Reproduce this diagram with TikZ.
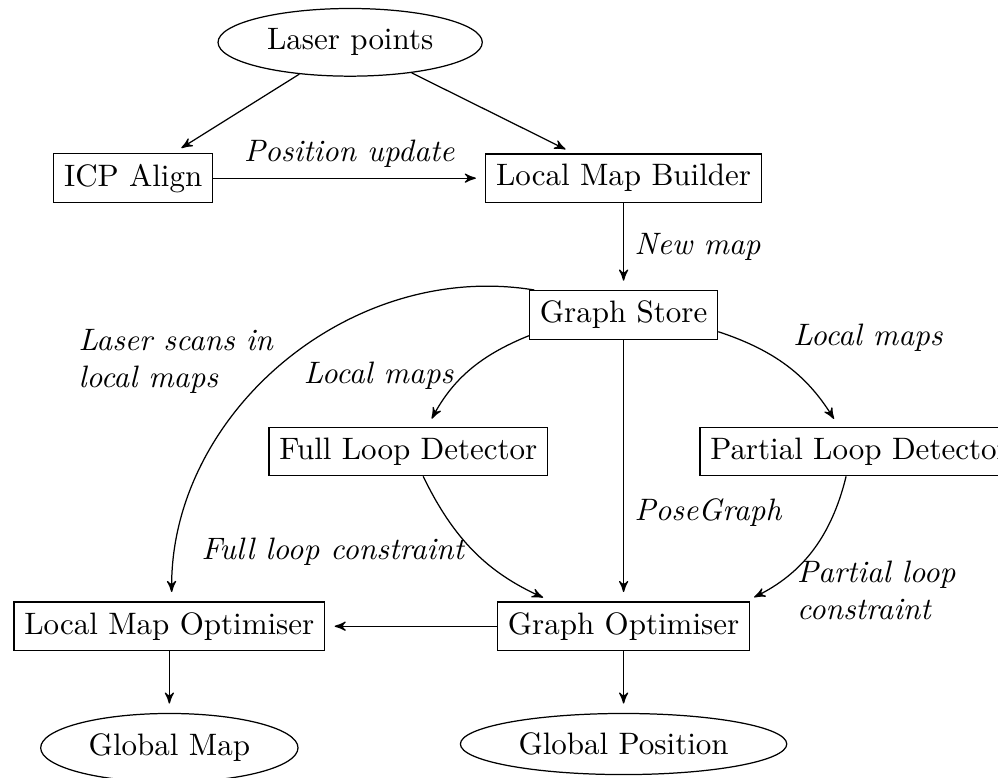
\documentclass[tikz,border=0pt]{standalone}
\usepackage{tikz}
\usepackage{amsmath}
\usetikzlibrary{shapes,arrows,positioning}

\begin{document}
\begin{tikzpicture}[>=stealth',
        block/.style={draw,rectangle},
        io/.style={draw,ellipse},
        lbl/.style={font=\itshape},
        flow/.style={->,shorten >=3pt}]
        \clip (0,0) rectangle (11.315,-8.81);
        % sources and processing blocks
        \node[io] (laser) at (3.97,-0.48) {Laser points};
        \node[block] (icp) at (1.51,-2.02) {ICP Align};
        \node[block] (lmb) at (7.07,-2.02) {Local Map Builder};
        \node[block] (gs) at (7.07,-3.57) {Graph Store};
        \node[block] (fld) at (4.63,-5.12) {Full Loop Detector};
        \node[block] (pld) at (9.745,-5.12) {Partial Loop Detector};
        \node[block] (lmo) at (1.92,-7.10) {Local Map Optimiser};
        \node[block] (go) at (7.07,-7.10) {Graph Optimiser};
        % outputs
        \node[io,below=0.7cm of lmo] (gmap) {Global Map};
        \node[io,below=0.7cm of go] (gpos) {Global Position};

        \draw[flow] (laser) -- (icp);
        \draw[flow] (laser) -- (lmb);
        \draw[flow] (icp) -- node[lbl,above] (posupd) {Position update} (lmb);
        \draw[flow] (lmb) -- node[lbl,right] (newmap) {New map} (gs);
        \draw[flow] (gs) to[bend right=20] node[lbl,pos=0.55,left] (lmapsl) {Local maps} (fld);
        \draw[flow] (gs) to[bend left=20] node[lbl,pos=0.45,above right] (lmapsr) {Local maps} (pld);
        \draw[flow] (gs) -- node[lbl,right,pos=0.66] (pgraph) {PoseGraph} (go);
        \draw[flow] (gs) to[bend right=50] node[lbl,pos=0.45,left,align=left,xshift=-0.23cm,yshift=-0.16cm] (scans) {Laser scans in\\local maps} (lmo);
        \draw[flow] (fld) to[bend right=20] node[lbl,pos=0.5,left] (fullc) {Full loop constraint} (go);
        \draw[flow] (pld) to[bend left=25] node[lbl,pos=0.6,below right,align=left,xshift=-0.17cm,yshift=0.15cm] (partc) {Partial loop\\constraint} (go);
        \draw[flow] (go) -- (lmo);
        \draw[flow] (lmo) -- (gmap);
        \draw[flow] (go) -- (gpos);
    \end{tikzpicture}
\end{document}
